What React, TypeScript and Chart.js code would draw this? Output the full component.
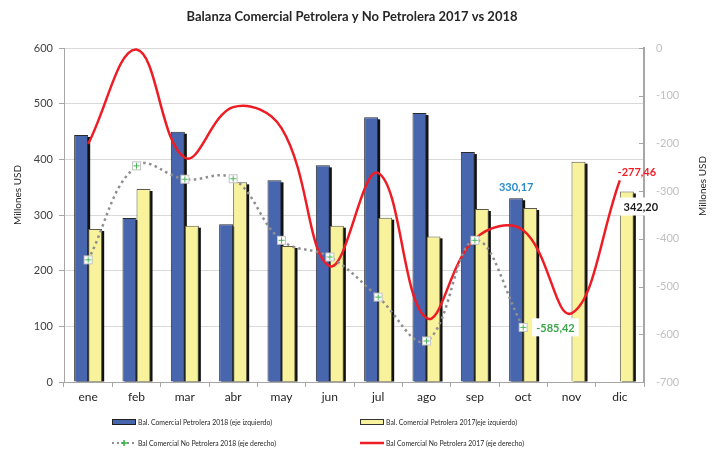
import { useEffect, useRef } from 'react';
import { Chart, registerables } from 'chart.js';

Chart.register(...registerables);

const months = ['ene', 'feb', 'mar', 'abr', 'may', 'jun', 'jul', 'ago', 'sep', 'oct', 'nov', 'dic'];
const petrolera2018 = [443.7, 294.6, 449.6, 283.2, 362.3, 389.2, 475.5, 483.2, 413.0, 330.17, null, null];
const petrolera2017 = [274.8, 346.7, 280.8, 358.7, 244.3, 280.8, 295.2, 261.6, 310.8, 312.6, 395.8, 342.2];
const noPetrolera2018 = [-444, -247, -275, -274, -403, -438, -522, -614, -403, -585.42, null, null];
const noPetrolera2017 = [-201, -3, -230, -124, -168, -457, -262, -566, -400, -382, -556, -277.46];
const leftTicks = [0, 100, 200, 300, 400, 500, 600];
const rightTicks = [-700, -600, -500, -400, -300, -200, -100, 0];

const TITLE = 'Balanza Comercial Petrolera y No Petrolera 2017 vs 2018';
const AXIS_TITLE = 'Millones USD';
const LEGEND = [
  'Bal. Comercial Petrolera 2018 (eje izquierdo)',
  'Bal. Comercial Petrolera 2017(eje izquierdo)',
  'Bal Comercial No Petrolera 2018 (eje derecho)',
  'Bal Comercial No Petrolera 2017 (eje derecho)',
];

const FONT = 'Lato, "Liberation Sans", sans-serif';
const BLUE = '#4766AE';
const YELLOW = '#F7F29B';
const RED = '#EE1C25';
const GRAY = '#8F8F8F';
const GREEN = '#3BA54A';

function makeMarker(): HTMLCanvasElement {
  const c = document.createElement('canvas');
  c.width = 11;
  c.height = 11;
  const g = c.getContext('2d')!;
  g.fillStyle = '#ffffff';
  g.fillRect(1, 1, 9, 9);
  g.strokeStyle = '#c4c4c4';
  g.lineWidth = 1;
  g.strokeRect(1.5, 1.5, 8, 8);
  g.strokeStyle = '#45b555';
  g.beginPath();
  g.moveTo(5.5, 2.5);
  g.lineTo(5.5, 8.5);
  g.moveTo(2.5, 5.5);
  g.lineTo(8.5, 5.5);
  g.stroke();
  return c;
}

const decorPlugin = {
  id: 'decor',
  beforeDatasetsDraw(chart: any) {
    const ctx = chart.ctx;
    ctx.save();
    ctx.fillStyle = '#111111';
    [2, 3].forEach((di) => {
      const meta = chart.getDatasetMeta(di);
      meta.data.forEach((el: any, i: number) => {
        const v = chart.data.datasets[di].data[i];
        if (v === null || v === undefined) return;
        const w = el.width;
        const left = el.x - w / 2;
        ctx.fillRect(left + 2, el.y + 2, w, el.base - el.y - 2);
      });
    });
    ctx.restore();
  },
  afterDraw(chart: any) {
    const ctx = chart.ctx;
    const area = chart.chartArea;
    const yR = chart.scales.yRight;
    ctx.save();

    // right axis inward ticks
    ctx.strokeStyle = '#a6a6a6';
    ctx.lineWidth = 1;
    rightTicks.forEach((v) => {
      const y = Math.round(yR.getPixelForValue(v)) + 0.5;
      ctx.beginPath();
      ctx.moveTo(area.right - 5, y);
      ctx.lineTo(area.right, y);
      ctx.stroke();
    });

    // title
    ctx.fillStyle = '#262626';
    ctx.font = `bold 13px ${FONT}`;
    ctx.textAlign = 'center';
    ctx.textBaseline = 'middle';
    ctx.fillText(TITLE, 352, 17, 354);

    // axis titles
    ctx.font = `10px ${FONT}`;
    ctx.fillStyle = '#262626';
    ctx.save();
    ctx.translate(18, 195);
    ctx.rotate(-Math.PI / 2);
    ctx.fillText(AXIS_TITLE, 0, 0, 60);
    ctx.restore();
    ctx.save();
    ctx.translate(703, 186);
    ctx.rotate(-Math.PI / 2);
    ctx.fillText(AXIS_TITLE, 0, 0, 60);
    ctx.restore();

    // data labels
    ctx.font = `bold 11px ${FONT}`;
    const blueMeta = chart.getDatasetMeta(2);
    const yelMeta = chart.getDatasetMeta(3);
    const grayMeta = chart.getDatasetMeta(0);
    const redMeta = chart.getDatasetMeta(1);

    const oct = 9;
    const dic = 11;
    const bOct = blueMeta.data[oct];
    ctx.fillStyle = '#2A8BCB';
    ctx.textAlign = 'center';
    ctx.fillText(String(petrolera2018[oct]).replace('.', ','), bOct.x, bOct.y - 11);

    const gOct = grayMeta.data[oct];
    const gTxt = (noPetrolera2018[oct] as number).toFixed(2).replace('.', ',');
    ctx.textAlign = 'left';
    const gw = ctx.measureText(gTxt).width;
    ctx.fillStyle = '#ffffff';
    ctx.fillRect(gOct.x + 9, gOct.y - 9, gw + 8, 18);
    ctx.fillStyle = GREEN;
    ctx.fillText(gTxt, gOct.x + 13, gOct.y + 1);

    const rDic = redMeta.data[dic];
    ctx.fillStyle = '#F01D25';
    ctx.textAlign = 'center';
    ctx.fillText((noPetrolera2017[dic] as number).toFixed(2).replace('.', ','), rDic.x + 17, rDic.y - 8);

    const yDic = yelMeta.data[dic];
    const yTxt = (petrolera2017[dic] as number).toFixed(2).replace('.', ',');
    const yw = ctx.measureText(yTxt).width;
    ctx.fillStyle = '#ffffff';
    ctx.fillRect(yDic.x + 14 - yw / 2 - 4, yDic.y + 6, yw + 8, 18);
    ctx.fillStyle = '#1a1a1a';
    ctx.fillText(yTxt, yDic.x + 14, yDic.y + 16);

    // legend
    ctx.font = `8px ${FONT}`;
    ctx.textAlign = 'left';
    ctx.fillStyle = '#262626';
    const cols = [112, 360];
    const rows = [422, 443];
    // blue box
    ctx.fillStyle = BLUE;
    ctx.fillRect(cols[0], rows[0] - 2.5, 24, 5);
    ctx.strokeStyle = '#1f1f1f';
    ctx.strokeRect(cols[0] + 0.5, rows[0] - 2.5, 23, 5);
    // yellow box
    ctx.fillStyle = YELLOW;
    ctx.fillRect(cols[1], rows[0] - 2.5, 24, 5);
    ctx.strokeStyle = '#333333';
    ctx.strokeRect(cols[1] + 0.5, rows[0] - 2.5, 23, 5);
    // gray dotted
    ctx.strokeStyle = GRAY;
    ctx.lineWidth = 2;
    ctx.setLineDash([2, 3]);
    ctx.beginPath();
    ctx.moveTo(cols[0], rows[1]);
    ctx.lineTo(cols[0] + 24, rows[1]);
    ctx.stroke();
    ctx.setLineDash([]);
    ctx.strokeStyle = '#2fb344';
    ctx.lineWidth = 1.5;
    ctx.beginPath();
    ctx.moveTo(cols[0] + 12, rows[1] - 3);
    ctx.lineTo(cols[0] + 12, rows[1] + 3);
    ctx.moveTo(cols[0] + 9, rows[1]);
    ctx.lineTo(cols[0] + 15, rows[1]);
    ctx.stroke();
    // red
    ctx.strokeStyle = RED;
    ctx.lineWidth = 2.5;
    ctx.beginPath();
    ctx.moveTo(cols[1], rows[1]);
    ctx.lineTo(cols[1] + 24, rows[1]);
    ctx.stroke();

    ctx.fillStyle = '#262626';
    ctx.textBaseline = 'middle';
    ctx.fillText(LEGEND[0], cols[0] + 26, rows[0], 134);
    ctx.fillText(LEGEND[1], cols[1] + 26, rows[0], 131);
    ctx.fillText(LEGEND[2], cols[0] + 26, rows[1], 138);
    ctx.fillText(LEGEND[3], cols[1] + 26, rows[1], 138);

    ctx.restore();
  },
};

export default function App() {
  const ref = useRef<HTMLCanvasElement | null>(null);

  useEffect(() => {
    document.body.style.margin = '0';
    const canvas = ref.current;
    if (!canvas) return;
    const marker = makeMarker();
    const chart = new Chart(canvas, {
      type: 'bar',
      data: {
        labels: months,
        datasets: [
          {
            type: 'line',
            label: LEGEND[2],
            data: noPetrolera2018 as any,
            yAxisID: 'yRight',
            borderColor: GRAY,
            borderWidth: 2.5,
            borderDash: [2.5, 3.5],
            tension: 0.4,
            pointStyle: marker as any,
            pointRadius: 5,
            spanGaps: false,
            order: 0,
          },
          {
            type: 'line',
            label: LEGEND[3],
            data: noPetrolera2017 as any,
            yAxisID: 'yRight',
            borderColor: RED,
            borderWidth: 2.5,
            tension: 0.4,
            pointRadius: 0,
            order: 1,
          },
          {
            type: 'bar',
            label: LEGEND[0],
            data: petrolera2018 as any,
            yAxisID: 'yLeft',
            backgroundColor: BLUE,
            borderColor: '#2a2a2a',
            borderWidth: 1,
            barPercentage: 1,
            categoryPercentage: 0.58,
            order: 2,
          },
          {
            type: 'bar',
            label: LEGEND[1],
            data: petrolera2017 as any,
            yAxisID: 'yLeft',
            backgroundColor: YELLOW,
            borderColor: '#5a5a4a',
            borderWidth: 1,
            barPercentage: 1,
            categoryPercentage: 0.58,
            order: 3,
          },
        ],
      },
      options: {
        responsive: false,
        animation: false,
        layout: { padding: { top: 48, left: 0, right: 0, bottom: 0 } },
        plugins: {
          legend: { display: false },
          title: { display: false },
          tooltip: { enabled: false },
        },
        scales: {
          x: {
            offset: true,
            grid: {
              display: true,
              drawOnChartArea: false,
              drawTicks: true,
              tickLength: 5,
              tickColor: '#a6a6a6',
              offset: true,
            },
            border: { display: true, color: '#a6a6a6', width: 1 },
            ticks: { color: '#262626', font: { family: FONT, size: 12 }, padding: 3 },
            afterFit: (s: any) => {
              s.height = 68;
            },
          },
          yLeft: {
            type: 'linear',
            position: 'left',
            min: 0,
            max: 600,
            afterBuildTicks: (s: any) => {
              s.ticks = leftTicks.map((v) => ({ value: v }));
            },
            grid: {
              color: '#d9d9d9',
              drawTicks: true,
              tickLength: 5,
              tickColor: '#a6a6a6',
            },
            border: { display: true, color: '#a6a6a6', width: 1 },
            ticks: { color: '#404040', font: { family: FONT, size: 11 }, padding: 6 },
            afterFit: (s: any) => {
              s.width = 64;
            },
          },
          yRight: {
            type: 'linear',
            position: 'right',
            min: -700,
            max: 0,
            afterBuildTicks: (s: any) => {
              s.ticks = rightTicks.map((v) => ({ value: v }));
            },
            grid: { drawOnChartArea: false, drawTicks: false },
            border: { display: true, color: '#a6a6a6', width: 2 },
            ticks: { color: '#c0c0c0', font: { family: FONT, size: 11 }, padding: 12 },
            afterFit: (s: any) => {
              s.width = 83;
            },
          },
        },
      },
      plugins: [decorPlugin],
    });
    return () => chart.destroy();
  }, []);

  return (
    <div style={{ width: 727, height: 450 }}>
      <canvas ref={ref} width={727} height={450} style={{ display: 'block' }} />
    </div>
  );
}
